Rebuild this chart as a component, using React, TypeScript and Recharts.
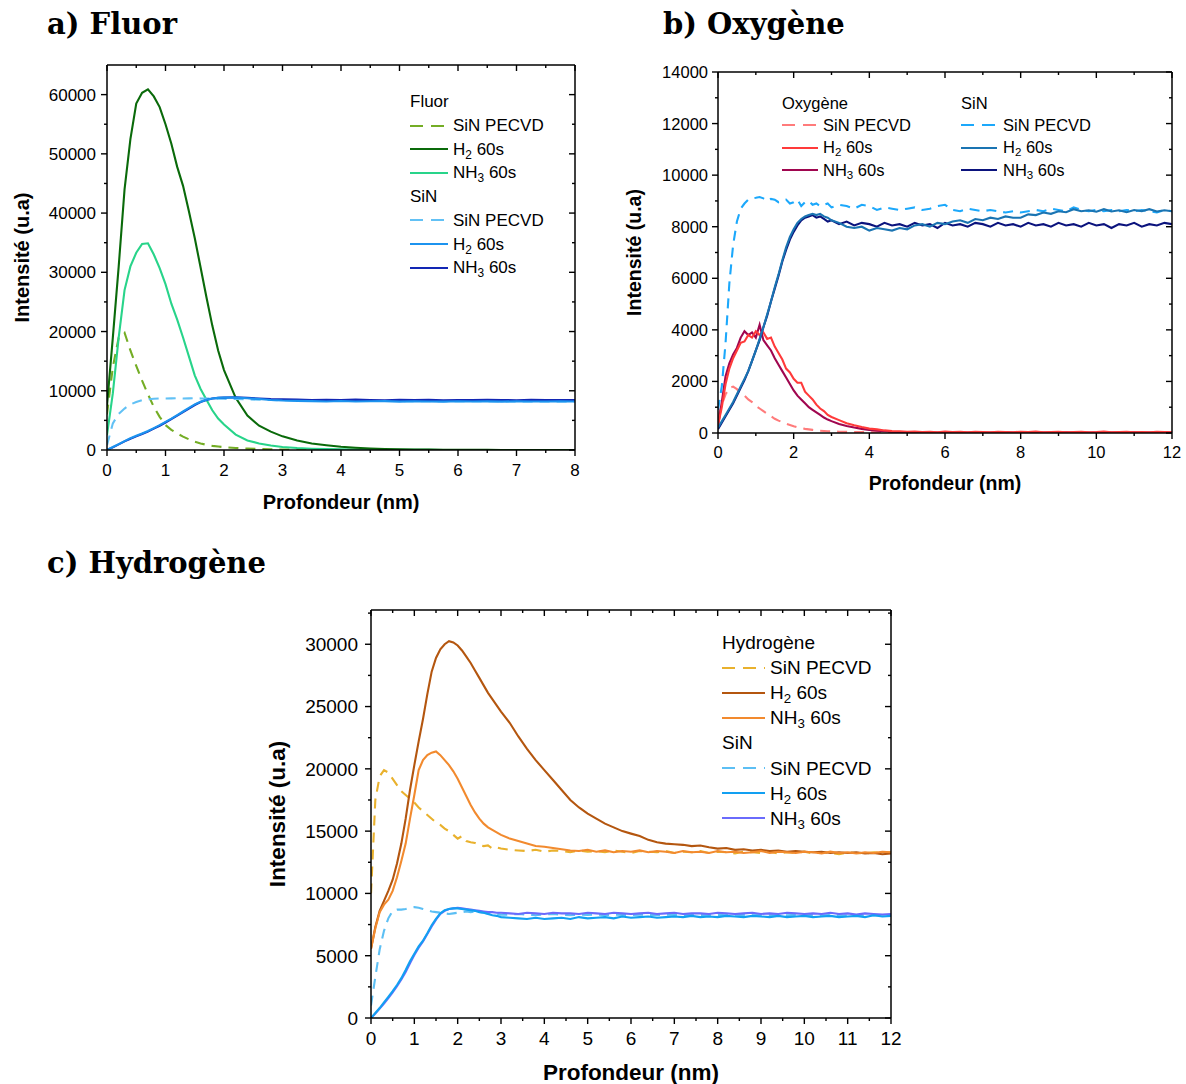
import React from "react";
import { LineChart, Line, XAxis, YAxis } from "recharts";

const SANS = "'Liberation Sans', Arial, Helvetica, sans-serif";
const SERIF = "'DejaVu Serif', 'Liberation Serif', serif";

// ---------- a) Fluor ----------
const depthA = [0, 0.1, 0.2, 0.3, 0.4, 0.5, 0.6, 0.7, 0.8, 0.9, 1, 1.1, 1.2, 1.3, 1.4, 1.5, 1.6, 1.7, 1.8, 1.9, 2,
  2.2, 2.4, 2.6, 2.8, 3, 3.25, 3.5, 3.75, 4, 4.25, 4.5, 4.75, 5, 5.25, 5.5, 5.75, 6, 6.25, 6.5, 6.75, 7, 7.25, 7.5, 7.75, 8];
const fluorPecvdA = [6000, 14000, 19000, 19800, 16800, 14200, 11700, 9400, 7300, 5600, 4200, 3400, 2800, 2250, 1800, 1400, 1100, 880, 700, 580, 480,
  340, 230, 160, 110, 80, 60, 40, 30, 20, 20, 10, 10, 10, 0, 0, 0, 0, 0, 0, 0, 0, 0, 0, 0, 0];
const fluorH2A = [7500, 19000, 31000, 44000, 52500, 58500, 60300, 60900, 59700, 57900, 55000, 51700, 47800, 44600, 40300, 35800, 30800, 25800, 21000, 16800, 13500,
  8800, 5800, 4100, 3100, 2300, 1600, 1100, 800, 550, 380, 260, 180, 120, 90, 60, 40, 30, 20, 20, 10, 10, 10, 10, 10, 10];
const fluorNH3A = [2500, 9600, 19000, 27000, 31000, 33300, 34800, 34900, 33000, 30700, 28000, 24700, 22000, 19000, 15800, 12600, 10300, 8500, 6700, 5300, 4300,
  2600, 1600, 1100, 750, 500, 330, 220, 150, 100, 70, 50, 40, 30, 20, 20, 10, 10, 10, 10, 10, 10, 10, 10, 10, 10];
const sinPecvdA = [800, 4500, 6100, 7000, 7700, 8100, 8400, 8550, 8650, 8700, 8700, 8720, 8750, 8700, 8720, 8750, 8700, 8680, 8700, 8650, 8650,
  8600, 8550, 8500, 8450, 8400, 8380, 8350, 8330, 8300, 8300, 8280, 8270, 8260, 8250, 8250, 8240, 8230, 8230, 8220, 8220, 8210, 8200, 8200, 8200, 8200];
const sinH2A = [0, 500, 1000, 1500, 2000, 2400, 2800, 3200, 3700, 4200, 4750, 5300, 5900, 6500, 7100, 7700, 8150, 8500, 8700, 8800, 8850,
  8850, 8750, 8600, 8450, 8350, 8300, 8250, 8200, 8280, 8180, 8220, 8250, 8170, 8230, 8200, 8160, 8240, 8190, 8210, 8170, 8230, 8200, 8180, 8220, 8200];
const sinNH3A = [0, 450, 950, 1450, 1900, 2300, 2700, 3100, 3600, 4100, 4650, 5200, 5800, 6400, 7000, 7600, 8100, 8450, 8700, 8800, 8850,
  8900, 8800, 8700, 8600, 8550, 8500, 8450, 8480, 8420, 8500, 8450, 8400, 8470, 8430, 8480, 8400, 8450, 8420, 8480, 8430, 8400, 8460, 8420, 8450, 8430];
const xTicksA = [0, 0.5, 1, 1.5, 2, 2.5, 3, 3.5, 4, 4.5, 5, 5.5, 6, 6.5, 7, 7.5, 8];
const yTicksA = [0, 5000, 10000, 15000, 20000, 25000, 30000, 35000, 40000, 45000, 50000, 55000, 60000];

// ---------- b) Oxygène ----------
const depthB = [0, 0.1, 0.2, 0.3, 0.4, 0.5, 0.6, 0.7, 0.8, 0.9, 1, 1.1, 1.2, 1.3, 1.4, 1.5, 1.6, 1.7, 1.8, 1.9, 2, 2.1, 2.2, 2.3, 2.4, 2.5, 2.6, 2.7, 2.8, 2.9, 3,
  3.2, 3.4, 3.6, 3.8, 4, 4.2, 4.4, 4.6, 4.8, 5, 5.2, 5.4, 5.6, 5.8, 6, 6.2, 6.4, 6.6, 6.8, 7, 7.2, 7.4, 7.6, 7.8, 8,
  8.2, 8.4, 8.6, 8.8, 9, 9.2, 9.4, 9.6, 9.8, 10, 10.2, 10.4, 10.6, 10.8, 11, 11.2, 11.4, 11.6, 11.8, 12];
const oxPecvdB = [600, 1100, 1500, 1750, 1800, 1700, 1550, 1450, 1300, 1200, 1050, 950, 850, 750, 650, 550, 480, 420, 360, 310, 260, 220, 190, 160, 140, 120, 100, 90, 80, 70, 60,
  50, 45, 40, 35, 30, 30, 25, 25, 20, 20, 20, 15, 15, 15, 10, 10, 10, 10, 10, 10, 10, 10, 10, 10, 10, 10, 10, 10, 10, 10, 10, 10, 10, 10, 10, 10, 10, 10, 10, 10, 10, 10, 10, 10, 10];
const oxH2B = [300, 1000, 1900, 2500, 2900, 3200, 3500, 3550, 3800, 3700, 3950, 3800, 3900, 3650, 3700, 3350, 3100, 2850, 2500, 2350, 2100, 1950, 1950, 1600, 1450, 1300, 1100, 950, 850, 700, 620,
  500, 380, 300, 230, 170, 140, 100, 80, 70, 50, 60, 40, 50, 30, 60, 40, 50, 30, 50, 40, 30, 50, 40, 30, 50, 40, 60, 30, 40, 50, 30, 40, 50, 30, 40, 60, 30, 40, 50, 30, 40, 30, 50, 40, 30];
const oxNH3B = [250, 1200, 2200, 2700, 3050, 3300, 3700, 3950, 3800, 3900, 3700, 4200, 3600, 3400, 3200, 2900, 2650, 2400, 2150, 1900, 1650, 1450, 1300, 1150, 1000, 900, 800, 700, 600, 520, 460,
  350, 270, 210, 160, 120, 90, 70, 50, 40, 30, 30, 20, 30, 20, 20, 30, 20, 20, 30, 20, 20, 20, 30, 20, 20, 20, 30, 20, 20, 20, 30, 20, 20, 20, 20, 30, 20, 20, 20, 30, 20, 20, 20, 30, 20];
const sinPecvdB = [900, 1800, 3500, 5800, 7300, 8200, 8700, 8900, 9050, 9100, 9120, 9150, 9100, 9000, 9080, 9050, 8950, 9000, 9050, 8900, 8950, 9050, 8800, 8950, 9000, 8850, 8900, 8800, 8850, 8900, 8750,
  8850, 8800, 8700, 8850, 8800, 8650, 8750, 8700, 8650, 8700, 8750, 8650, 8700, 8800, 8850, 8650, 8600, 8700, 8650, 8600, 8650, 8600, 8550, 8600, 8550,
  8600, 8650, 8600, 8700, 8650, 8600, 8750, 8650, 8600, 8650, 8600, 8650, 8600, 8650, 8600, 8650, 8600, 8550, 8650, 8600];
const sinH2B = [200, 450, 700, 950, 1200, 1500, 1800, 2100, 2400, 2800, 3200, 3650, 4100, 4600, 5100, 5650, 6150, 6700, 7200, 7600, 7900, 8150, 8300, 8400, 8450, 8500, 8450, 8500, 8400, 8350, 8250,
  8150, 8000, 7950, 8000, 7850, 7950, 7900, 7850, 7950, 7900, 8050, 8100, 8000, 8150, 8100, 8200, 8250, 8150, 8300, 8250, 8350, 8300, 8400, 8350, 8350,
  8480, 8450, 8550, 8500, 8600, 8560, 8680, 8600, 8640, 8580, 8680, 8590, 8640, 8560, 8650, 8600, 8680, 8590, 8640, 8600];
const sinNH3B = [150, 400, 650, 900, 1150, 1450, 1750, 2050, 2400, 2800, 3200, 3600, 4100, 4550, 5100, 5600, 6100, 6650, 7100, 7500, 7800, 8050, 8250, 8350, 8400, 8450, 8350, 8400, 8300, 8200, 8250,
  8100, 8200, 8050, 8150, 8100, 8000, 8150, 8050, 8100, 8000, 8150, 8050, 8100, 7950, 8150, 8050, 8100, 8000, 8150, 8100, 8000, 8150, 8050, 8100, 8000,
  8150, 8050, 8100, 8000, 8150, 8050, 8100, 8000, 8150, 8050, 8100, 7950, 8100, 8050, 8150, 8000, 8100, 8050, 8150, 8100];
const xTicksB = [0, 1, 2, 3, 4, 5, 6, 7, 8, 9, 10, 11, 12];
const yTicksB = [0, 1000, 2000, 3000, 4000, 5000, 6000, 7000, 8000, 9000, 10000, 11000, 12000, 13000, 14000];

// ---------- c) Hydrogène ----------
const depthC = depthB;
const hydPecvdC = [10000, 17500, 19400, 19900, 19700, 19200, 18700, 18200, 17900, 17600, 17300, 16900, 16600, 16300, 16000, 15700, 15500, 15200, 15000, 14700, 14400, 14600, 14200, 14100, 14050, 13900, 13800, 13850, 13600, 13700, 13600,
  13500, 13450, 13400, 13500, 13350, 13450, 13400, 13300, 13450, 13350, 13400, 13300, 13450, 13350, 13250, 13400, 13350, 13300, 13400, 13250, 13350, 13300, 13400, 13250, 13350,
  13300, 13200, 13350, 13300, 13250, 13350, 13200, 13300, 13250, 13350, 13200, 13300, 13250, 13150, 13300, 13250, 13200, 13300, 13250, 13300];
const hydH2C = [5550, 7300, 8600, 9400, 10200, 11100, 12400, 14000, 16000, 18300, 20300, 22200, 24000, 26000, 27800, 28900, 29600, 30000, 30250, 30150, 29900, 29500, 29000, 28500, 27900, 27300, 26700, 26100, 25600, 25100, 24600,
  23700, 22600, 21600, 20700, 19900, 19100, 18300, 17500, 16900, 16400, 16000, 15600, 15300, 15000, 14800, 14600, 14300, 14100, 14000, 13950, 13900, 13800, 13850, 13700, 13600,
  13650, 13500, 13550, 13450, 13500, 13400, 13450, 13350, 13400, 13350, 13300, 13350, 13250, 13300, 13250, 13300, 13200, 13250, 13150, 13200];
const hydNH3C = [5550, 7200, 8500, 9100, 9500, 10200, 11300, 12600, 14000, 16000, 17900, 19900, 20700, 21100, 21300, 21400, 21100, 20700, 20300, 19800, 19200, 18500, 17800, 17100, 16500, 16000, 15600, 15300, 15100, 14900, 14700,
  14400, 14200, 14000, 13800, 13750, 13650, 13550, 13450, 13400, 13500, 13350, 13450, 13300, 13400, 13350, 13450, 13300, 13400, 13350, 13250, 13400, 13300, 13350, 13250, 13400,
  13300, 13350, 13250, 13300, 13400, 13250, 13350, 13300, 13250, 13350, 13300, 13200, 13350, 13250, 13300, 13200, 13300, 13250, 13350, 13300];
const sinPecvdC = [1000, 3300, 5500, 7000, 8000, 8600, 8700, 8700, 8750, 8850, 8900, 8850, 8750, 8650, 8550, 8500, 8450, 8400, 8350, 8400, 8450, 8500, 8550, 8500, 8550, 8500, 8450, 8400, 8350, 8350, 8300,
  8300, 8350, 8300, 8250, 8300, 8350, 8300, 8250, 8300, 8280, 8300, 8250, 8300, 8280, 8250, 8300, 8280, 8250, 8300, 8270, 8250, 8300, 8260, 8250, 8280,
  8250, 8300, 8260, 8250, 8280, 8250, 8260, 8240, 8280, 8250, 8260, 8240, 8270, 8250, 8230, 8260, 8250, 8240, 8260, 8250];
const sinH2C = [0, 400, 800, 1250, 1700, 2150, 2650, 3200, 3850, 4550, 5150, 5750, 6200, 6800, 7450, 7950, 8400, 8650, 8750, 8800, 8800, 8750, 8700, 8650, 8600, 8500, 8450, 8350, 8250, 8200, 8100,
  8050, 8000, 7950, 8050, 7950, 8000, 8050, 7950, 8100, 8000, 8050, 8100, 8000, 8150, 8050, 8100, 8150, 8050, 8100, 8150, 8100, 8200, 8100, 8150, 8100,
  8200, 8150, 8100, 8200, 8150, 8100, 8200, 8100, 8150, 8200, 8100, 8150, 8200, 8100, 8150, 8200, 8100, 8250, 8150, 8200];
const sinNH3C = [0, 350, 750, 1150, 1600, 2050, 2550, 3100, 3700, 4400, 5050, 5650, 6150, 6750, 7350, 7900, 8350, 8600, 8750, 8800, 8850, 8800, 8750, 8700, 8650, 8600, 8550, 8500, 8500, 8450, 8450,
  8400, 8350, 8450, 8400, 8350, 8450, 8400, 8400, 8350, 8450, 8400, 8350, 8450, 8400, 8350, 8400, 8450, 8350, 8400, 8450, 8350, 8400, 8400, 8350, 8450,
  8400, 8350, 8400, 8450, 8350, 8400, 8350, 8450, 8400, 8350, 8400, 8350, 8450, 8350, 8400, 8300, 8400, 8350, 8300, 8350];
const xTicksC = [0, 0.5, 1, 1.5, 2, 2.5, 3, 3.5, 4, 4.5, 5, 5.5, 6, 6.5, 7, 7.5, 8, 8.5, 9, 9.5, 10, 10.5, 11, 11.5, 12];
const yTicksC = [0, 2500, 5000, 7500, 10000, 12500, 15000, 17500, 20000, 22500, 25000, 27500, 30000, 32500];

type Series = { key: string; name: string; color: string; dashed?: boolean; values: number[] };

const seriesA: Series[] = [
  { key: "fPecvd", name: "SiN PECVD", color: "#74ad25", dashed: true, values: fluorPecvdA },
  { key: "fH2", name: "H_2 60s", color: "#0a6a0a", values: fluorH2A },
  { key: "fNH3", name: "NH_3 60s", color: "#28d48a", values: fluorNH3A },
  { key: "sPecvd", name: "SiN PECVD", color: "#62c1f5", dashed: true, values: sinPecvdA },
  { key: "sH2", name: "H_2 60s", color: "#1c93ef", values: sinH2A },
  { key: "sNH3", name: "NH_3 60s", color: "#1226b4", values: sinNH3A },
];
const seriesB: Series[] = [
  { key: "oPecvd", name: "SiN PECVD", color: "#ff7b7b", dashed: true, values: oxPecvdB },
  { key: "oH2", name: "H_2 60s", color: "#ff3a3a", values: oxH2B },
  { key: "oNH3", name: "NH_3 60s", color: "#a0064f", values: oxNH3B },
  { key: "sPecvd", name: "SiN PECVD", color: "#1ca8fb", dashed: true, values: sinPecvdB },
  { key: "sH2", name: "H_2 60s", color: "#1a74b2", values: sinH2B },
  { key: "sNH3", name: "NH_3 60s", color: "#0b137d", values: sinNH3B },
];
const seriesC: Series[] = [
  { key: "hPecvd", name: "SiN PECVD", color: "#e9b12d", dashed: true, values: hydPecvdC },
  { key: "hH2", name: "H_2 60s", color: "#b4560f", values: hydH2C },
  { key: "hNH3", name: "NH_3 60s", color: "#f28a2e", values: hydNH3C },
  { key: "sPecvd", name: "SiN PECVD", color: "#5cbff4", dashed: true, values: sinPecvdC },
  { key: "sH2", name: "H_2 60s", color: "#12a0f2", values: sinH2C },
  { key: "sNH3", name: "NH_3 60s", color: "#6a6bfc", values: sinNH3C },
];

// drawing order (last is on top)
const drawOrderA = ["fPecvd", "fNH3", "fH2", "sPecvd", "sNH3", "sH2"];
const drawOrderB = ["oPecvd", "oNH3", "oH2", "sPecvd", "sNH3", "sH2"];
const drawOrderC = ["hPecvd", "hH2", "hNH3", "sPecvd", "sNH3", "sH2"];

function buildRows(depth: number[], series: Series[]) {
  return depth.map((d, i) => {
    const row: Record<string, number> = { depth: d };
    series.forEach((s) => {
      row[s.key] = s.values[i];
    });
    return row;
  });
}

function renderName(name: string) {
  const m = name.match(/^(\w+?)_(\d)(.*)$/);
  if (!m) return name;
  return (
    <>
      {m[1]}
      <sub style={{ fontSize: "0.7em", verticalAlign: "-0.3em", lineHeight: 0 }}>{m[2]}</sub>
      {m[3]}
    </>
  );
}

function AxisTick(props: any) {
  const { x, y, payload, side, major, fontSize, labelGap } = props;
  const v = Number(payload.value);
  const isMajor = Math.abs(v / major - Math.round(v / major)) < 1e-6;
  const len = isMajor ? 6 : 3;
  let x2 = x;
  let y2 = y;
  if (side === "bottom" || side === "top") y2 = y + len;
  else x2 = x - len;
  return (
    <g>
      <line x1={x} y1={y} x2={x2} y2={y2} stroke="#000" strokeWidth={1.4} />
      {isMajor && side === "bottom" && (
        <text x={x} y={y + labelGap} textAnchor="middle" fontSize={fontSize} fontFamily={SANS} fill="#000">
          {v}
        </text>
      )}
      {isMajor && side === "left" && (
        <text x={x - labelGap} y={y} dy="0.36em" textAnchor="end" fontSize={fontSize} fontFamily={SANS} fill="#000">
          {v}
        </text>
      )}
    </g>
  );
}

type LegendEntry = { title?: string; s?: Series };

function LegendBlock(p: { left: number; top: number; step: number; swatch: number; gap: number; fontSize: number; entries: LegendEntry[] }) {
  return (
    <div style={{ position: "absolute", left: p.left, top: p.top, fontFamily: SANS, fontSize: p.fontSize, color: "#000" }}>
      {p.entries.map((e, i) => (
        <div
          key={i}
          style={{ position: "absolute", left: 0, top: i * p.step, height: p.step, display: "flex", alignItems: "center", whiteSpace: "nowrap" }}
        >
          {e.title ? (
            <span style={{ lineHeight: 1 }}>{e.title}</span>
          ) : (
            <>
              <svg width={p.swatch} height={4} style={{ display: "block" }}>
                <line x1={0} y1={2} x2={p.swatch} y2={2} stroke={e.s!.color} strokeWidth={2.2} strokeDasharray={e.s!.dashed ? "13 8" : undefined} />
              </svg>
              <span style={{ marginLeft: p.gap, lineHeight: 1 }}>{renderName(e.s!.name)}</span>
            </>
          )}
        </div>
      ))}
    </div>
  );
}

type PanelProps = {
  left: number;
  top: number;
  width: number;
  height: number;
  margin: { top: number; right: number; bottom: number; left: number };
  yLeftW: number;
  yRightW: number;
  xDomain: [number, number];
  xTicks: number[];
  xMajor: number;
  yDomain: [number, number];
  yTicks: number[];
  yMajor: number;
  rows: Record<string, number>[];
  series: Series[];
  order: string[];
  tickFont: number;
  titleFont: number;
  xLabelGap: number;
  yLabelGap: number;
  xTitleOffset: number;
  yTitleOffset: number;
};

function Panel(p: PanelProps) {
  const titleStyle = { textAnchor: "middle", fontWeight: 700, fontSize: p.titleFont, fontFamily: SANS, fill: "#000" } as any;
  const axisLine = { stroke: "#000", strokeWidth: 1.5 };
  const drawn = p.order.map((k) => p.series.find((s) => s.key === k)!);
  return (
    <div style={{ position: "absolute", left: p.left, top: p.top }}>
      <LineChart width={p.width} height={p.height} data={p.rows} margin={p.margin}>
        <XAxis
          xAxisId="b"
          dataKey="depth"
          type="number"
          domain={p.xDomain}
          allowDataOverflow
          ticks={p.xTicks}
          interval={0}
          height={60}
          tickSize={0}
          tickMargin={0}
          tickLine={false}
          axisLine={axisLine}
          tick={(t: any) => <AxisTick {...t} side="bottom" major={p.xMajor} fontSize={p.tickFont} labelGap={p.xLabelGap} />}
          label={{ value: "Profondeur (nm)", position: "insideBottom", offset: p.xTitleOffset, style: titleStyle }}
        />
        <XAxis
          xAxisId="t"
          dataKey="depth"
          type="number"
          orientation="top"
          domain={p.xDomain}
          allowDataOverflow
          ticks={p.xTicks}
          interval={0}
          height={1}
          tickSize={0}
          tickMargin={0}
          tickLine={false}
          axisLine={axisLine}
          tick={(t: any) => <AxisTick {...t} side="top" major={p.xMajor} />}
        />
        <YAxis
          yAxisId="l"
          type="number"
          domain={p.yDomain}
          allowDataOverflow
          ticks={p.yTicks}
          interval={0}
          width={p.yLeftW}
          tickSize={0}
          tickMargin={0}
          tickLine={false}
          axisLine={axisLine}
          tick={(t: any) => <AxisTick {...t} side="left" major={p.yMajor} fontSize={p.tickFont} labelGap={p.yLabelGap} />}
          label={{ value: "Intensité (u.a)", angle: -90, position: "insideLeft", offset: p.yTitleOffset, style: titleStyle }}
        />
        <YAxis
          yAxisId="r"
          type="number"
          orientation="right"
          domain={p.yDomain}
          allowDataOverflow
          ticks={p.yTicks}
          interval={0}
          width={p.yRightW}
          tickSize={0}
          tickMargin={0}
          tickLine={false}
          axisLine={axisLine}
          tick={(t: any) => <AxisTick {...t} side="right" major={p.yMajor} />}
        />
        {drawn.map((s) => (
          <Line
            key={s.key}
            xAxisId="b"
            yAxisId="l"
            type="linear"
            dataKey={s.key}
            stroke={s.color}
            strokeWidth={2.1}
            strokeDasharray={s.dashed ? "10 7" : undefined}
            dot={false}
            activeDot={false}
            isAnimationActive={false}
          />
        ))}
      </LineChart>
    </div>
  );
}

function Title({ left, top, text }: { left: number; top: number; text: string }) {
  return (
    <div style={{ position: "absolute", left, top, fontFamily: SERIF, fontWeight: 700, fontSize: 29, lineHeight: 1, whiteSpace: "nowrap", color: "#000" }}>
      {text}
    </div>
  );
}

export default function App() {
  const rowsA = buildRows(depthA, seriesA);
  const rowsB = buildRows(depthB, seriesB);
  const rowsC = buildRows(depthC, seriesC);
  return (
    <div style={{ position: "absolute", left: 0, top: 0, width: 1186, height: 1084, background: "#fff", overflow: "hidden" }}>
      <Title left={47} top={10} text="a) Fluor" />
      <Title left={663} top={10} text="b) Oxygène" />
      <Title left={47} top={549} text="c) Hydrogène" />

      <Panel
        left={0}
        top={55}
        width={600}
        height={470}
        margin={{ top: 9, right: 0, bottom: 15, left: 0 }}
        yLeftW={107}
        yRightW={25}
        xDomain={[0, 8]}
        xTicks={xTicksA}
        xMajor={1}
        yDomain={[0, 65000]}
        yTicks={yTicksA}
        yMajor={10000}
        rows={rowsA}
        series={seriesA}
        order={drawOrderA}
        tickFont={17}
        titleFont={20}
        xLabelGap={26}
        yLabelGap={11}
        xTitleOffset={1}
        yTitleOffset={22}
      />
      <Panel
        left={610}
        top={60}
        width={576}
        height={450}
        margin={{ top: 11, right: 0, bottom: 17, left: 0 }}
        yLeftW={108}
        yRightW={14}
        xDomain={[0, 12]}
        xTicks={xTicksB}
        xMajor={2}
        yDomain={[0, 14000]}
        yTicks={yTicksB}
        yMajor={2000}
        rows={rowsB}
        series={seriesB}
        order={drawOrderB}
        tickFont={16.5}
        titleFont={19.5}
        xLabelGap={25}
        yLabelGap={10}
        xTitleOffset={3}
        yTitleOffset={24}
      />
      <Panel
        left={260}
        top={600}
        width={660}
        height={484}
        margin={{ top: 9, right: 0, bottom: 6, left: 0 }}
        yLeftW={111}
        yRightW={29}
        xDomain={[0, 12]}
        xTicks={xTicksC}
        xMajor={1}
        yDomain={[0, 32750]}
        yTicks={yTicksC}
        yMajor={5000}
        rows={rowsC}
        series={seriesC}
        order={drawOrderC}
        tickFont={19}
        titleFont={22.5}
        xLabelGap={27}
        yLabelGap={13}
        xTitleOffset={-2}
        yTitleOffset={17}
      />

      <LegendBlock
        left={410}
        top={90}
        step={23.7}
        swatch={38}
        gap={5}
        fontSize={17}
        entries={[
          { title: "Fluor" },
          { s: seriesA[0] },
          { s: seriesA[1] },
          { s: seriesA[2] },
          { title: "SiN" },
          { s: seriesA[3] },
          { s: seriesA[4] },
          { s: seriesA[5] },
        ]}
      />
      <LegendBlock
        left={782}
        top={92}
        step={22.3}
        swatch={36}
        gap={5}
        fontSize={16.5}
        entries={[{ title: "Oxygène" }, { s: seriesB[0] }, { s: seriesB[1] }, { s: seriesB[2] }]}
      />
      <LegendBlock
        left={961}
        top={92}
        step={22.3}
        swatch={36}
        gap={6}
        fontSize={16.5}
        entries={[{ title: "SiN" }, { s: seriesB[3] }, { s: seriesB[4] }, { s: seriesB[5] }]}
      />
      <LegendBlock
        left={722}
        top={630}
        step={25.1}
        swatch={43}
        gap={5}
        fontSize={19}
        entries={[
          { title: "Hydrogène" },
          { s: seriesC[0] },
          { s: seriesC[1] },
          { s: seriesC[2] },
          { title: "SiN" },
          { s: seriesC[3] },
          { s: seriesC[4] },
          { s: seriesC[5] },
        ]}
      />
    </div>
  );
}
